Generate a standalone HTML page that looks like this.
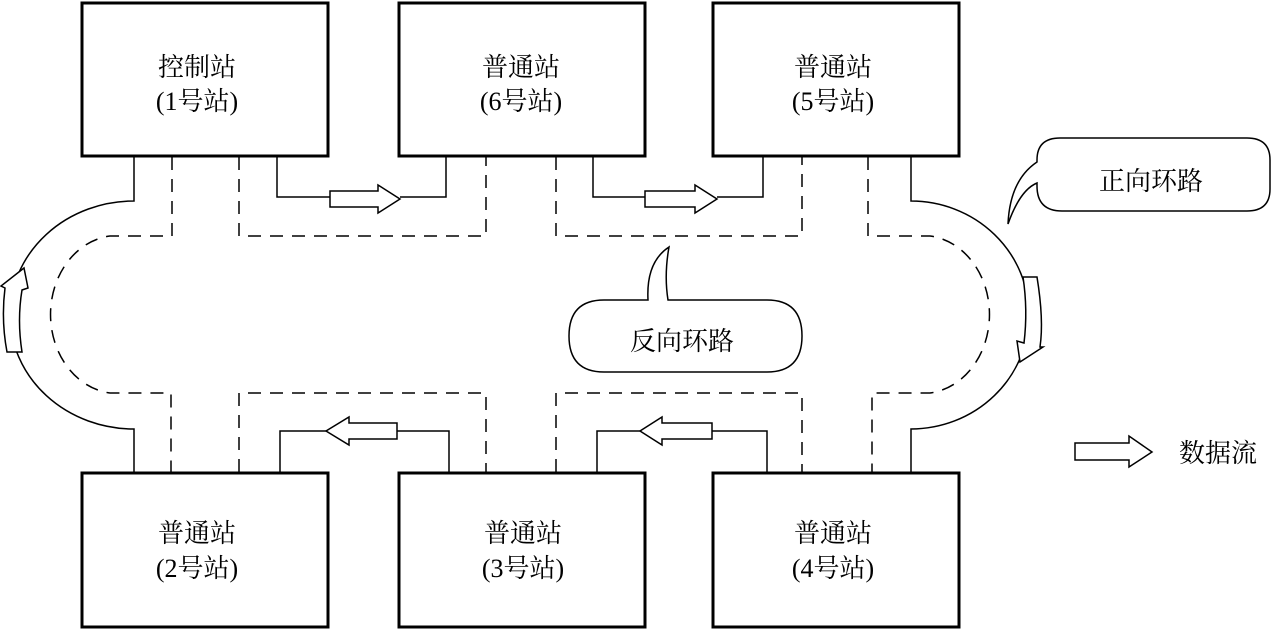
<!DOCTYPE html>
<html><head><meta charset="utf-8"><style>
html,body{margin:0;padding:0;background:#fff;}
svg{display:block;}
text{font-family:"Liberation Serif","Noto Serif CJK SC",serif;fill:#000;}
</style></head><body>
<svg width="1271" height="629" viewBox="0 0 1271 629" xmlns="http://www.w3.org/2000/svg">
<g fill="#fff" stroke="#000" stroke-width="3">
<rect x="82" y="3" width="246" height="153"/>
<rect x="399" y="3" width="246" height="153"/>
<rect x="713" y="3" width="246" height="153"/>
<rect x="82" y="473" width="246" height="154"/>
<rect x="399" y="473" width="246" height="154"/>
<rect x="713" y="473" width="246" height="154"/>
</g>
<g fill="none" stroke="#000" stroke-width="1.5">
<path d="M134 157 V201 A124 114 0 0 0 134 429 V472"/>
<path d="M911 157 V201 A118 114 0 0 1 911 429 V472"/>
<path d="M277 157 V197 H330 M400 197 H446 V157"/>
<path d="M593 157 V197 H645 M717 197 H763 V157"/>
<path d="M280 472 V431 H326 M397 431 H449 V472"/>
<path d="M597 472 V431 H640 M712 431 H767 V472"/>
</g>
<g fill="none" stroke="#000" stroke-width="1.5" stroke-dasharray="13,9">
<path d="M172 157 V236 H110 A67 79 0 0 0 110 393 H171 V472"/>
<path d="M239 157 V236 H486 V157"/>
<path d="M556 157 V236 H802 V157"/>
<path d="M868 157 V236 H930 A67 79 0 0 1 930 393 H872 V472"/>
<path d="M239 472 V393 H486 V472"/>
<path d="M556 472 V393 H802 V472"/>
</g>
<g fill="#fff" stroke="#000" stroke-width="1.5">
<polygon points="330,191 378,191 378,185 400,199 378,213 378,207 330,207"/>
<polygon points="645,191 695,191 695,185 717,199 695,213 695,207 645,207"/>
<polygon points="397,423 349,423 349,417 326,431 349,445 349,439 397,439"/>
<polygon points="712,423 662,423 662,417 640,431 662,445 662,439 712,439"/>
<polygon points="1075,443 1129,443 1129,436 1152,452 1129,467 1129,460 1075,460"/>
<path d="M22,352 L7,352 Q1,320 5,288 L1,286 L24,268 L28,288 L22,290 Q17,320 22,352 Z"/>
<path d="M1023,277 L1037,277 Q1044,320 1040,347 L1043,347 L1020,362 L1017,341 L1024,343 Q1028,310 1023,277 Z"/>
</g>
<g fill="#fff" stroke="#000" stroke-width="1.5">
<path d="M1060 138 H1247 Q1270 138 1270 160 V189 Q1270 211 1247 211 H1062 Q1037 211 1037 186 V183 Q1020 190 1008 224 Q1010 180 1037 162 V160 Q1037 138 1060 138 Z"/>
<path d="M604 300 H648 Q646 262 669 247 Q664 275 668 300 H767 Q802 300 802 336 Q802 372 767 372 H604 Q569 372 569 336 Q569 300 604 300 Z"/>
</g>
<g font-size="26" text-anchor="middle">
<text x="197" y="76">控制站</text><text x="197" y="110">(1号站)</text>
<text x="521" y="76">普通站</text><text x="521" y="110">(6号站)</text>
<text x="833" y="76">普通站</text><text x="833" y="110">(5号站)</text>
<text x="197" y="542">普通站</text><text x="197" y="577">(2号站)</text>
<text x="523" y="542">普通站</text><text x="523" y="577">(3号站)</text>
<text x="833" y="542">普通站</text><text x="833" y="577">(4号站)</text>
<text x="1151" y="190">正向环路</text>
<text x="682" y="350">反向环路</text>
<text x="1218" y="462">数据流</text>
</g>
</svg>
</body></html>
